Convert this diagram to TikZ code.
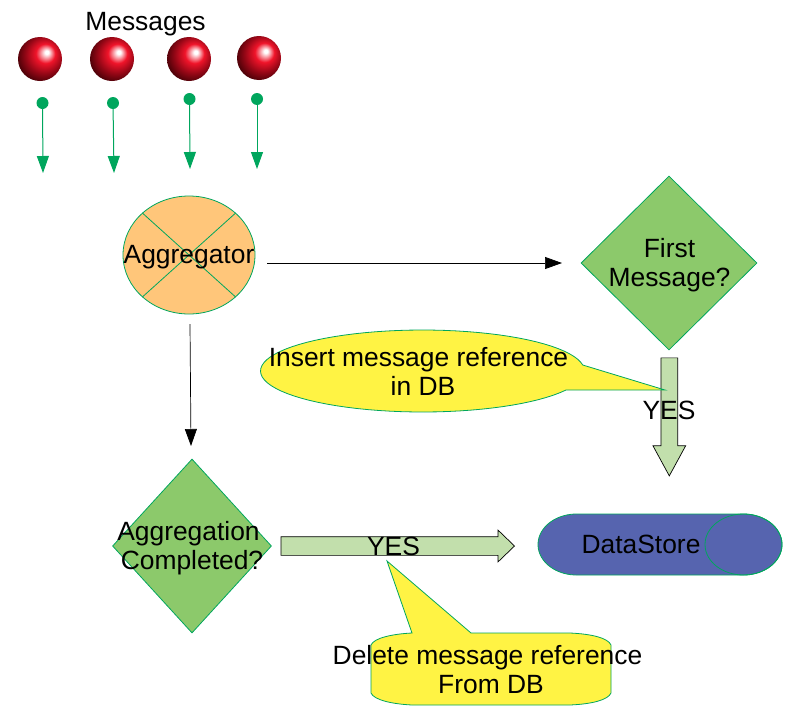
\documentclass[tikz,border=0pt]{standalone}
\usepackage{fontspec}
\setmainfont{Liberation Sans}
\usetikzlibrary{positioning,arrows.meta,shapes.geometric,shapes.arrows}
\definecolor{flowgreen}{HTML}{00A65D}
\definecolor{peach}{HTML}{FFC67A}
\definecolor{leaf}{HTML}{8CC96B}
\definecolor{lemon}{HTML}{FFF344}
\definecolor{pale}{HTML}{C2DFAC}
\definecolor{dusk}{HTML}{5664AF}
\definecolor{ballred}{HTML}{F0142A}
\definecolor{ballmid}{HTML}{960716}
\definecolor{balldark}{HTML}{400005}
\pgfdeclareradialshading{msgball}{\pgfpoint{8bp}{8bp}}{
  color(0bp)=(white);
  color(2bp)=(white);
  color(11bp)=(ballred);
  color(21bp)=(ballmid);
  color(31bp)=(balldark);
  color(50bp)=(balldark)}
\tikzset{
  label26/.style={font=\fontsize{26.4}{29}\selectfont, align=center, inner sep=0pt},
  flowshape/.style={draw=flowgreen, line width=0.8pt},
  decision/.style={flowshape, diamond, fill=leaf, inner sep=0pt, aspect=1},
  bigarrow/.style={single arrow, anchor=tip, draw=black, fill=pale, line width=0.7pt, single arrow head indent=0pt},
  msgarrow/.style={draw=flowgreen, line width=1pt, -{Triangle[length=17pt,width=12pt]}},
  plainarrow/.style={draw=black, line width=0.7pt, -{Triangle[length=17pt,width=12pt]}}
}

\begin{document}
\begin{tikzpicture}[x=1pt,y=-1pt]
\useasboundingbox (0,0) rectangle (794,723);
\node[label26] (messages) at (145.5,24) {Messages};
\foreach \x/\y/\dotx/\doty/\tipx/\tipy/\name in {40/59/42.5/103/43/173/a,112/59/113/103/114/173/b,189/59/189.5/99/190/169/c,259/58/257/99/257/169/d} {
  \node[circle, minimum size=44pt, inner sep=0pt, shading=msgball] (msg\name) at (\x,\y) {};
  \node[circle, fill=flowgreen, minimum size=12pt, inner sep=0pt] (dot\name) at (\dotx,\doty) {};
  \coordinate (tip\name) at (\tipx,\tipy);
  \draw[msgarrow] (dot\name) -- (tip\name);
}
% aggregator
\node[ellipse, flowshape, fill=peach, minimum width=132pt, minimum height=118pt, inner sep=0pt] (agg) at (189,255) {};
\draw[flowshape] (agg.42) -- (agg.222);
\draw[flowshape] (agg.138) -- (agg.318);
\node[label26] (aggtext) at (189,257.5) {Aggregator};
% decisions
\node[decision, minimum width=176pt, minimum height=174pt] (first) at (669,263) {};
\node[label26] (firsttext) at (669.5,265) {First\\Message?};
\node[decision, minimum width=159pt, minimum height=174pt] (done) at (192,546) {};
\node[label26] (donetext) at (192,548) {Aggregation\hspace*{7pt}\\Completed?};
\coordinate (aggout) at (267,263);
\coordinate (firstin) at (562,263);
\coordinate (aggdown) at (190,324);
\coordinate (donein) at (191,446);
\draw[plainarrow] (aggout) -- (firstin);
\draw[plainarrow] (aggdown) -- (donein);
% store
\coordinate (store) at (660,544.5);
\draw[flowshape, fill=dusk] plot[domain=90:270, samples=40] ({576.5+38.5*cos(\x)},{544.5+30.5*sin(\x)}) -- plot[domain=-90:90, samples=40] ({743.5+38.5*cos(\x)},{544.5+30.5*sin(\x)}) -- cycle;
\node[ellipse, flowshape, minimum width=77pt, minimum height=61pt, inner sep=0pt] (storeend) at (743.5,544.5) {};
\node[label26] (storetext) at (641,544.5) {DataStore};
% yes arrows
\node[bigarrow, shape border rotate=270, inner xsep=8pt, inner ysep=0pt, minimum height=118pt, minimum width=32pt, single arrow head extend=8pt, single arrow tip angle=57] (yesdown) at (669.3,476.6) {};
\node[bigarrow, inner xsep=0pt, inner ysep=9pt, minimum height=233.5pt, minimum width=31pt, single arrow head extend=6.5pt, single arrow tip angle=88] (yesright) at (515,546) {};
\node[label26] (yesdowntext) at (669,410.5) {YES};
\node[label26] (yesrighttext) at (393.5,546.5) {YES};
% callouts
\draw[flowshape, fill=lemon] plot[domain=27.6:351.6, samples=80] ({422.5+162*cos(\x)},{371+41*sin(\x)}) -- (665,390) -- cycle;
\node[label26] (inserttext) at (423,371) {Insert message reference\hspace*{9pt}\\in DB};
\draw[flowshape, fill=lemon] (371,645) .. controls (374,638) and (392,634) .. (412,633) -- (387,561) -- (471,633) -- (570,633) .. controls (592,634) and (608,638) .. (611,645) -- (611,693) .. controls (608,700) and (592,704) .. (570,705) -- (412,705) .. controls (392,704) and (374,700) .. (371,693) -- cycle;
\node[label26] (deletetext) at (491,669.5) {Delete message reference\hspace*{7pt}\\From DB};
\end{tikzpicture}
\end{document}
